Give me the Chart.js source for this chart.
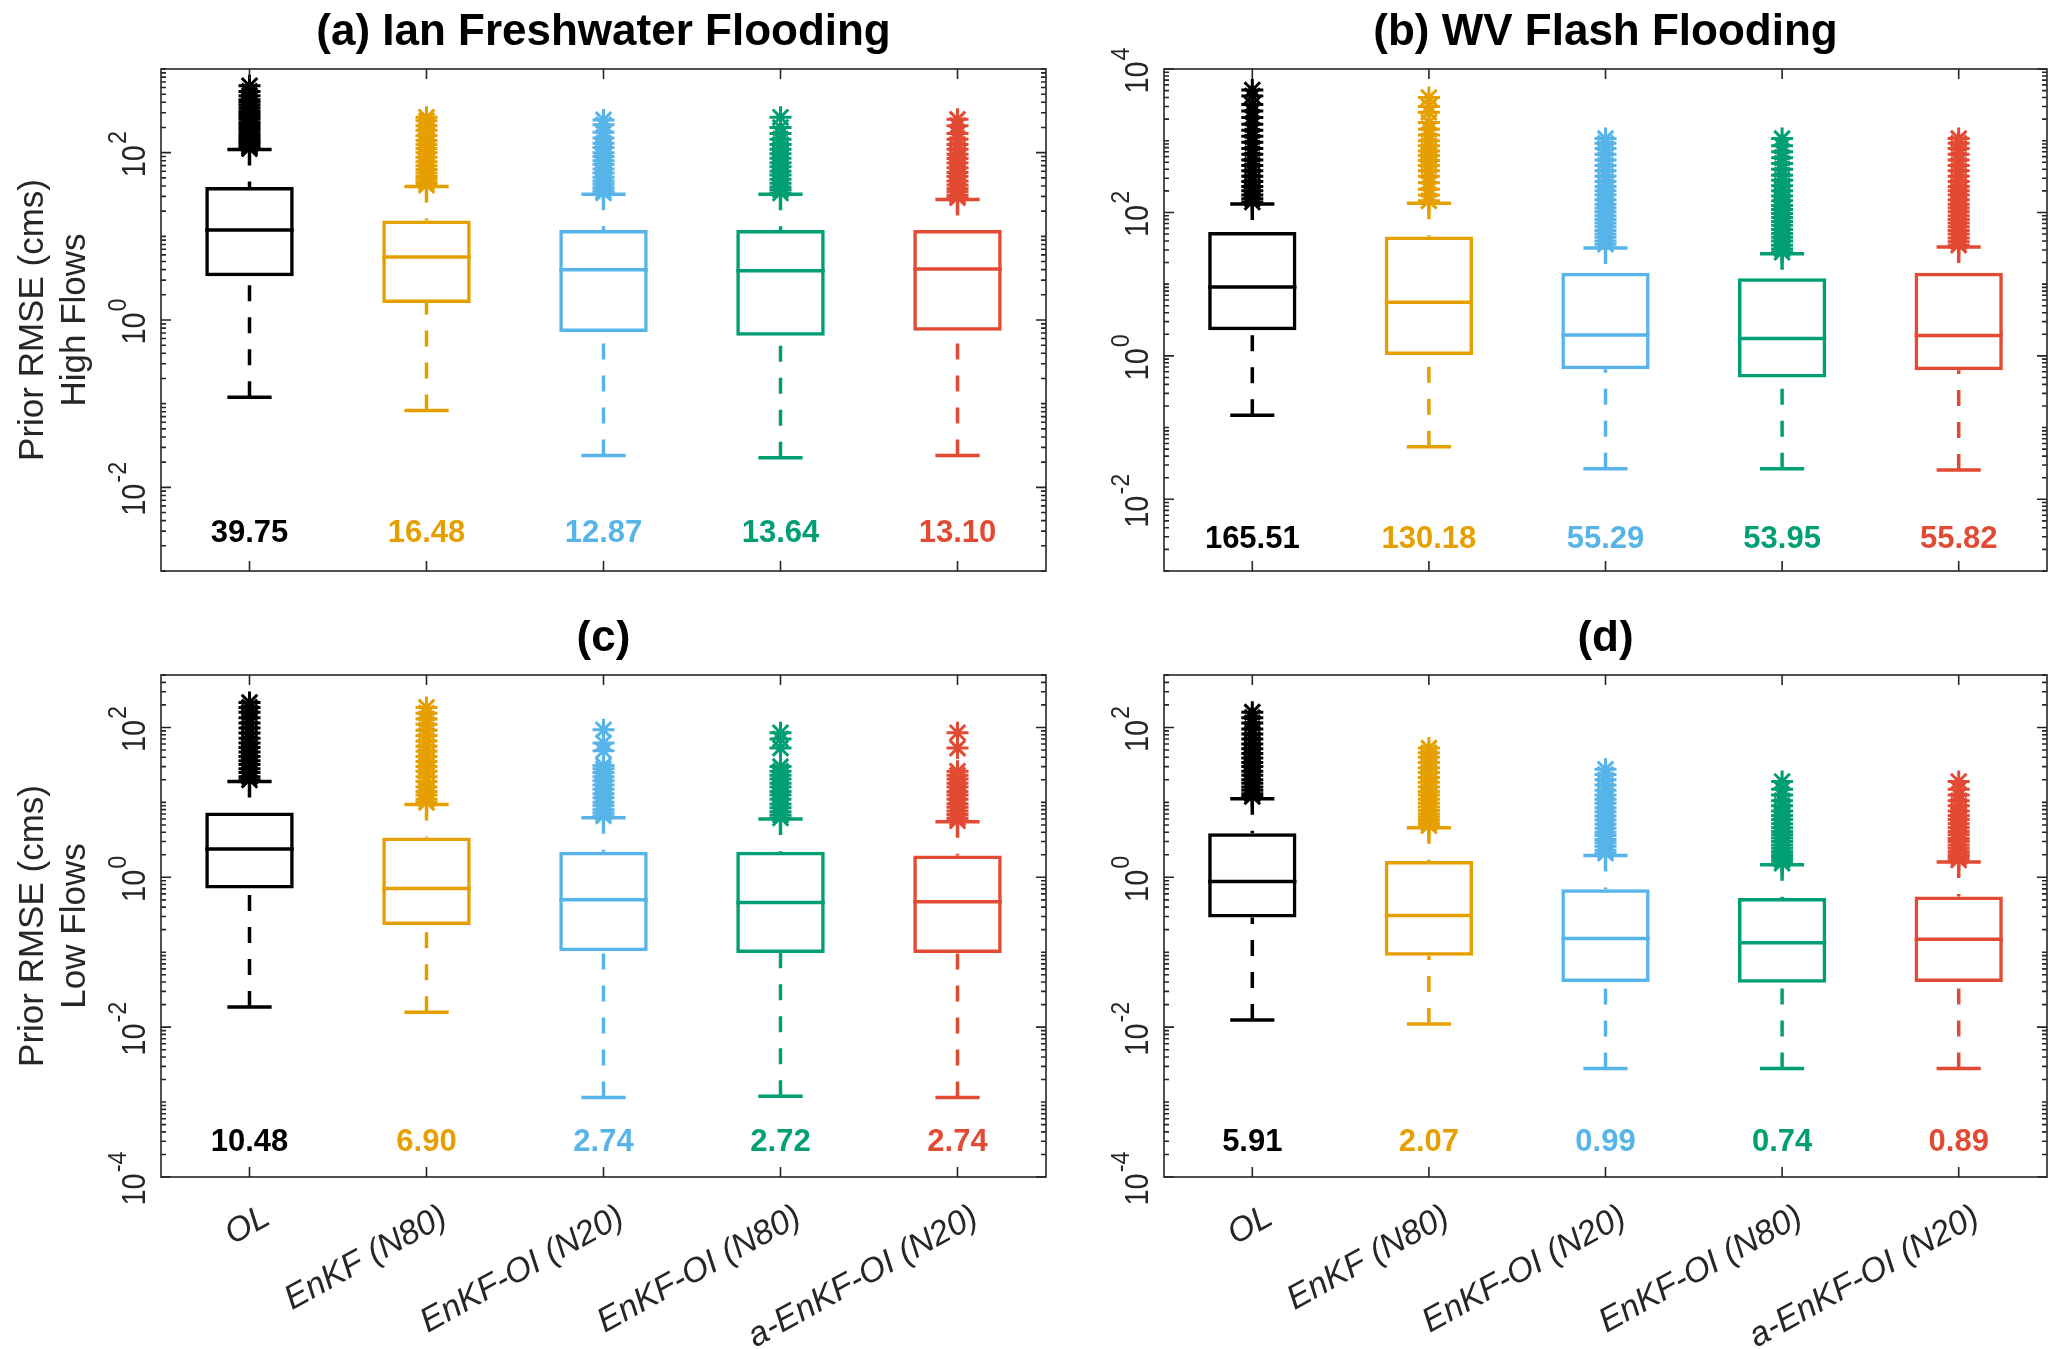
<!DOCTYPE html>
<html><head><meta charset="utf-8">
<script src="https://cdn.jsdelivr.net/npm/chart.js@4.4.1/dist/chart.umd.min.js"></script>
<style>
html,body{margin:0;padding:0;background:#fff;}
#wrap{position:relative;width:2067px;height:1349px;overflow:hidden;}
.pane{position:absolute;}
</style></head><body>
<div id="wrap">
 <div class="pane" style="left:0;top:0;"><canvas id="cA" width="1080" height="620" style="width:1080px;height:620px"></canvas></div>
 <div class="pane" style="left:1080px;top:0;"><canvas id="cB" width="987" height="620" style="width:987px;height:620px"></canvas></div>
 <div class="pane" style="left:0;top:620px;"><canvas id="cC" width="1080" height="729" style="width:1080px;height:729px"></canvas></div>
 <div class="pane" style="left:1080px;top:620px;"><canvas id="cD" width="987" height="729" style="width:987px;height:729px"></canvas></div>
</div>
<script>
// ---------- data ----------
const categories = ['OL', 'EnKF (N80)', 'EnKF-OI (N20)', 'EnKF-OI (N80)', 'a-EnKF-OI (N20)'];
const colors = ['#000000', '#E69F00', '#56B4E9', '#009E73', '#E34A33'];

// (a) Ian Freshwater Flooding - high flows
const aLow = [0.119, 0.083, 0.024, 0.0226, 0.024];
const aQ1 = [3.34, 1.6, 0.72, 0.65, 0.745];
const aMed = [11.9, 5.65, 4.0, 3.87, 4.07];
const aQ3 = [39, 15.5, 11.9, 11.9, 11.9];
const aHigh = [109, 39.4, 31.8, 31.8, 27.5];
const aOut = [
  [112,118,125,132,140,150,160,172,185,200,215,230,250,270,290,310,340,370,400,430,480,540,630],
  [41,44,48,52,57,63,70,78,88,100,112,125,140,160,185,210,240,265],
  [33,35,38,42,46,51,57,64,72,80,90,100,115,130,150,175,215,246],
  [33,36,39,43,48,54,60,68,76,86,97,110,125,145,170,200,265],
  [29,31,34,37,41,46,52,58,66,75,85,96,110,125,145,170,210,250]
];
const aRmse = ['39.75', '16.48', '12.87', '13.64', '13.10'];

// (b) WV Flash Flooding - high flows
const bLow = [0.148, 0.054, 0.0267, 0.0267, 0.0257];
const bQ1 = [2.27, 1.03, 0.65, 0.5, 0.63];
const bMed = [9.1, 5.6, 1.96, 1.74, 1.92];
const bQ3 = [53.5, 46, 14.4, 12.1, 14.4];
const bHigh = [131, 134, 32, 26.5, 33];
const bOut = [
  [140,155,175,200,230,270,320,380,450,540,650,780,950,1150,1400,1700,2100,2600,3200,4200,5100],
  [145,175,210,260,320,380,450,530,620,720,850,1000,1200,1450,1800,2500,3000,4000],
  [36,40,45,50,56,63,71,80,90,102,115,130,150,175,200,230,270,320,380,450,540,650,780,920,1070],
  [28,31,35,40,45,51,58,66,75,85,97,110,125,145,170,200,235,280,330,400,480,580,700,850,1070],
  [35,39,44,50,56,63,71,80,90,102,115,130,150,175,200,230,270,320,380,450,540,650,780,920,1070]
];
const bRmse = ['165.51', '130.18', '55.29', '53.95', '55.82'];

// (c) Ian - low flows
const cLow = [0.0186, 0.0158, 0.00115, 0.0012, 0.00115];
const cQ1 = [0.71, 0.23, 0.103, 0.098, 0.098];
const cMed = [2.38, 0.71, 0.5, 0.46, 0.47];
const cQ3 = [7.3, 3.4, 2.2, 2.2, 1.96];
const cHigh = [19, 9.4, 6.25, 6.0, 5.5];
const cOut = [
  [20,22,25,28,32,36,41,47,54,62,72,84,98,115,135,160,185,215],
  [10,11,12.5,14,16,19,22,26,30,35,41,48,56,66,78,92,110,130,155,185],
  [6.6,7.2,8,9,10,11.5,13,15,17,19.5,22,25,28,31,49,62,93],
  [6.2,6.8,7.5,8.5,9.5,11,12.5,14,16,18,20.5,23,26,30,53,70,85],
  [5.7,6.2,6.9,7.7,8.6,9.6,11,12.5,14,16,18,20.5,23,26,53,85]
];
const cRmse = ['10.48', '6.90', '2.74', '2.72', '2.74'];

// (d) WV - low flows
const dLow = [0.0125, 0.011, 0.0028, 0.0028, 0.0028];
const dQ1 = [0.29, 0.09, 0.040, 0.039, 0.040];
const dMed = [0.88, 0.31, 0.153, 0.134, 0.149];
const dQ3 = [3.86, 1.65, 0.69, 0.53, 0.556];
const dHigh = [11.2, 4.6, 1.96, 1.47, 1.6];
const dOut = [
  [12,13,14.5,16,18,20,23,26,30,34,39,45,52,60,70,82,95,115,135,160],
  [4.9,5.3,5.8,6.4,7,7.8,8.7,9.7,11,12.5,14,16,18.5,21.5,25,29,34,40,46,53],
  [2.1,2.3,2.6,2.9,3.2,3.6,4,4.5,5.1,5.8,6.6,7.5,8.5,9.7,11,12.5,14.5,17,20,23.5,27.6],
  [1.55,1.7,1.85,2,2.2,2.45,2.7,3,3.35,3.7,4.1,4.6,5.2,5.9,6.7,7.7,9,10.5,12.5,15,19],
  [1.7,1.85,2,2.2,2.45,2.7,3,3.3,3.7,4.1,4.6,5.2,5.9,6.7,7.7,9,10.5,12.5,15,19]
];
const dRmse = ['5.91', '2.07', '0.99', '0.74', '0.89'];

// tick label exponents per panel
const aTickExp = [-2, 0, 2];
const bTickExp = [-2, 0, 2, 4];
const cTickExp = [-4, -2, 0, 2];
const dTickExp = [-4, -2, 0, 2];

const titles = ['(a) Ian Freshwater Flooding', '(b) WV Flash Flooding', '(c)', '(d)'];
const yTitleHigh = ['Prior RMSE (cms)', 'High Flows'];
const yTitleLow = ['Prior RMSE (cms)', 'Low Flows'];

// ---------- drawing ----------
const AX = '#262626';
const FONT = '"Liberation Sans", Arial, Helvetica, sans-serif';

const boxPlugin = {
  id: 'boxExtras',
  afterDatasetsDraw(chart, args, o) {
    const ctx = chart.ctx, x = chart.scales.x, y = chart.scales.y;
    const meta = chart.getDatasetMeta(0);
    ctx.save();
    categories.forEach((c, i) => {
      const px = x.getPixelForValue(i);
      const bw = meta.data[i].width;
      ctx.strokeStyle = colors[i];
      ctx.lineWidth = 3.5;
      ctx.lineCap = 'butt';
      // whiskers (dashed, from cap toward box)
      ctx.setLineDash([16, 16]);
      ctx.beginPath();
      ctx.moveTo(px, y.getPixelForValue(o.low[i]));
      ctx.lineTo(px, y.getPixelForValue(o.q1[i]));
      ctx.moveTo(px, y.getPixelForValue(o.high[i]));
      ctx.lineTo(px, y.getPixelForValue(o.q3[i]));
      ctx.stroke();
      ctx.setLineDash([]);
      // caps
      ctx.beginPath();
      [o.low[i], o.high[i]].forEach(v => {
        const py = y.getPixelForValue(v);
        ctx.moveTo(px - bw / 4, py);
        ctx.lineTo(px + bw / 4, py);
      });
      // median
      const pm = y.getPixelForValue(o.med[i]);
      ctx.moveTo(px - bw / 2, pm);
      ctx.lineTo(px + bw / 2, pm);
      ctx.stroke();
    });
    ctx.restore();
  },
  afterDraw(chart, args, o) {
    const ctx = chart.ctx, x = chart.scales.x, y = chart.scales.y;
    const a = chart.chartArea;
    ctx.save();
    // frame
    ctx.strokeStyle = AX;
    ctx.lineWidth = 1.6;
    ctx.strokeRect(a.left, a.top, a.right - a.left, a.bottom - a.top);
    // x ticks (inward, bottom & top)
    ctx.beginPath();
    categories.forEach((c, i) => {
      const px = x.getPixelForValue(i);
      ctx.moveTo(px, a.bottom); ctx.lineTo(px, a.bottom - 10);
      ctx.moveTo(px, a.top); ctx.lineTo(px, a.top + 10);
    });
    // y ticks (major at labelled decades, minor elsewhere)
    const e0 = Math.floor(Math.log10(y.min)), e1 = Math.ceil(Math.log10(y.max));
    for (let e = e0; e <= e1; e++) {
      for (let k = 1; k <= 9; k++) {
        const v = k * Math.pow(10, e);
        if (v < y.min * 0.999 || v > y.max * 1.001) continue;
        const py = y.getPixelForValue(v);
        const len = (k === 1 && o.tickExp.includes(e)) ? 10 : 5;
        ctx.moveTo(a.left, py); ctx.lineTo(a.left + len, py);
        ctx.moveTo(a.right, py); ctx.lineTo(a.right - len, py);
      }
    }
    ctx.stroke();
    // y tick labels (rotated 10^n)
    ctx.fillStyle = AX;
    ctx.textAlign = 'left';
    ctx.textBaseline = 'alphabetic';
    const sxB = 0.85, sxE = 0.9;
    o.tickExp.forEach(e => {
      const py = y.getPixelForValue(Math.pow(10, e));
      ctx.save();
      ctx.translate(a.left - 16, py);
      ctx.rotate(-Math.PI / 2);
      ctx.font = '34px ' + FONT;
      const wB = ctx.measureText('10').width * sxB;
      ctx.font = '26px ' + FONT;
      const ex = String(e);
      const wE = ctx.measureText(ex).width * sxE;
      const start = -(wB + wE) / 2 - 2;
      ctx.save();
      ctx.scale(sxB, 1);
      ctx.font = '34px ' + FONT;
      ctx.fillText('10', start / sxB, 0);
      ctx.restore();
      ctx.save();
      ctx.scale(sxE, 1);
      ctx.font = '26px ' + FONT;
      ctx.fillText(ex, (start + wB + 1) / sxE, -19);
      ctx.restore();
      ctx.restore();
    });
    // title
    ctx.fillStyle = '#000';
    ctx.textAlign = 'center';
    ctx.textBaseline = 'middle';
    ctx.font = 'bold 44px ' + FONT;
    ctx.fillText(o.title, (a.left + a.right) / 2, a.top - 36);
    // RMSE numbers
    ctx.font = 'bold 31px ' + FONT;
    const pyN = y.getPixelForValue(o.labelAt);
    o.rmse.forEach((t, i) => {
      ctx.fillStyle = colors[i];
      ctx.fillText(t, x.getPixelForValue(i), pyN);
    });
    ctx.restore();
  }
};

function makePanel(id, p) {
  const datasets = [{
    type: 'bar',
    label: 'box',
    data: p.q1.map((v, i) => [v, p.q3[i]]),
    backgroundColor: 'rgba(0,0,0,0)',
    borderColor: colors,
    borderWidth: 3.5,
    borderSkipped: false,
    barPercentage: 0.5,
    categoryPercentage: 1
  }];
  p.out.forEach((arr, i) => datasets.push({
    type: 'line',
    label: 'outliers ' + categories[i],
    data: arr.map(v => ({x: categories[i], y: v})),
    showLine: false,
    pointStyle: 'star',
    pointRadius: 11,
    pointHoverRadius: 11,
    pointBorderWidth: 3,
    borderColor: colors[i],
    backgroundColor: colors[i]
  }));
  return new Chart(document.getElementById(id), {
    type: 'bar',
    data: {labels: categories, datasets},
    options: {
      responsive: false,
      animation: false,
      devicePixelRatio: 1,
      events: [],
      layout: {padding: {left: 0, right: p.padRight, top: p.padTop, bottom: 0}},
      plugins: {
        legend: {display: false},
        tooltip: {enabled: false},
        boxExtras: {
          low: p.low, q1: p.q1, med: p.med, q3: p.q3, high: p.high,
          rmse: p.rmse, labelAt: p.labelAt, tickExp: p.tickExp, title: p.title
        }
      },
      scales: {
        x: {
          type: 'category',
          offset: true,
          grid: {display: false, drawTicks: false},
          border: {display: false},
          ticks: {
            display: p.showX,
            autoSkip: false,
            minRotation: 29,
            maxRotation: 29,
            padding: 20,
            labelOffset: 18,
            color: AX,
            font: {family: FONT, size: 34, style: 'italic'}
          },
          afterFit: s => { s.height = p.xHeight; }
        },
        y: {
          type: 'logarithmic',
          min: p.yMin,
          max: p.yMax,
          grid: {display: false, drawTicks: false},
          border: {display: false},
          ticks: {display: false},
          title: {
            display: !!p.yTitle,
            text: p.yTitle || '',
            color: AX,
            font: {family: FONT, size: 35, lineHeight: 1.2},
            padding: {top: 12, bottom: 0}
          },
          afterFit: s => { s.width = p.yWidth; }
        }
      }
    },
    plugins: [boxPlugin]
  });
}

makePanel('cA', {low: aLow, q1: aQ1, med: aMed, q3: aQ3, high: aHigh, out: aOut, rmse: aRmse,
  tickExp: aTickExp, title: titles[0], yTitle: yTitleHigh, yMin: 1e-3, yMax: 1e3, labelAt: Math.pow(10, -2.55),
  showX: false, yWidth: 161, padRight: 34, padTop: 69, xHeight: 49});
makePanel('cB', {low: bLow, q1: bQ1, med: bMed, q3: bQ3, high: bHigh, out: bOut, rmse: bRmse,
  tickExp: bTickExp, title: titles[1], yTitle: null, yMin: 1e-3, yMax: 1e4, labelAt: Math.pow(10, -2.56),
  showX: false, yWidth: 84, padRight: 20, padTop: 69, xHeight: 49});
makePanel('cC', {low: cLow, q1: cQ1, med: cMed, q3: cQ3, high: cHigh, out: cOut, rmse: cRmse,
  tickExp: cTickExp, title: titles[2], yTitle: yTitleLow, yMin: 1e-4, yMax: Math.pow(10, 2.7), labelAt: Math.pow(10, -3.54),
  showX: true, yWidth: 161, padRight: 34, padTop: 55, xHeight: 172});
makePanel('cD', {low: dLow, q1: dQ1, med: dMed, q3: dQ3, high: dHigh, out: dOut, rmse: dRmse,
  tickExp: dTickExp, title: titles[3], yTitle: null, yMin: 1e-4, yMax: Math.pow(10, 2.7), labelAt: Math.pow(10, -3.54),
  showX: true, yWidth: 84, padRight: 20, padTop: 55, xHeight: 172});
</script>
</body></html>
